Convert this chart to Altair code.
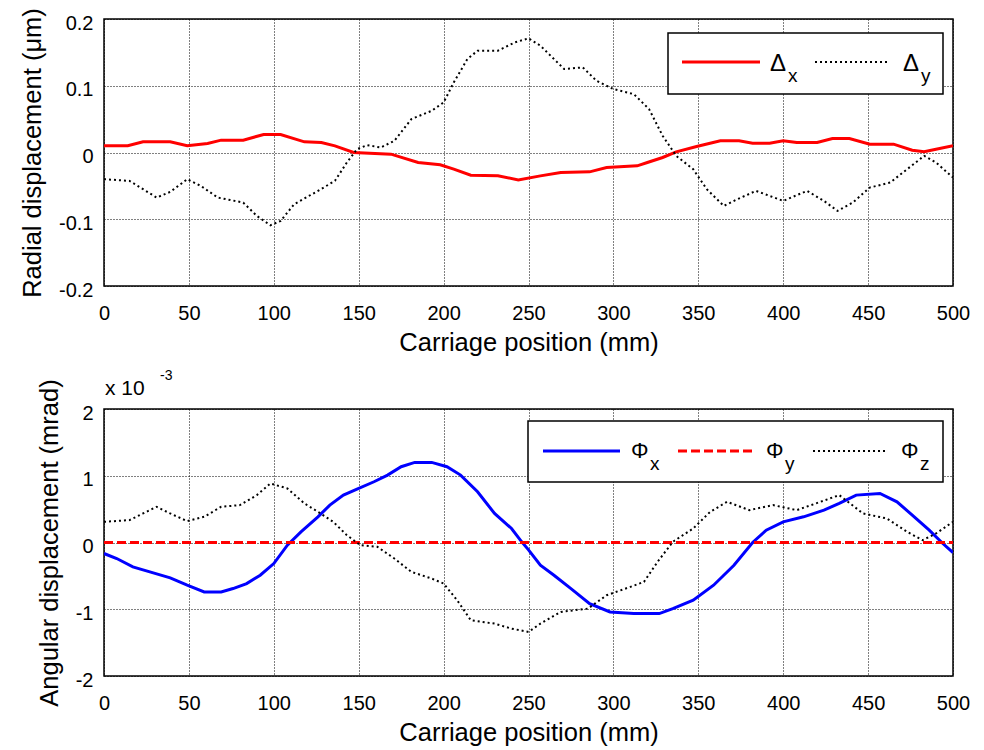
import altair as alt
import pandas as pd

# ---------------- data ----------------
# Top panel: radial displacement (µm)
dx_pos = [0, 14, 23, 39, 49, 61, 69, 82, 94, 104, 118, 128, 136, 147, 169, 185, 198, 206, 216,
          232, 244, 257, 269, 286, 296, 314, 320, 329, 337, 349, 363, 374, 382, 392, 400, 408,
          420, 429, 439, 451, 465, 476, 483, 490, 500]
dx_val = [0.010, 0.010, 0.016, 0.016, 0.010, 0.0135, 0.0185, 0.0185, 0.027, 0.027, 0.016, 0.015,
          0.010, 0.0, -0.0025, -0.015, -0.0185, -0.025, -0.034, -0.035, -0.041, -0.035, -0.030,
          -0.029, -0.0225, -0.020, -0.015, -0.0075, 0.001, 0.009, 0.0175, 0.0175, 0.014, 0.014,
          0.0175, 0.015, 0.015, 0.021, 0.021, 0.0125, 0.0125, 0.0035, 0.001, 0.005, 0.010]

dy_pos = [0, 15, 23, 31, 39, 49, 57, 67, 82, 90, 98, 104, 112, 126, 136, 143, 149, 155, 163, 171,
          181, 193, 200, 206, 214, 220, 232, 242, 250, 257, 271, 282, 290, 300, 312, 321, 329,
          337, 347, 355, 365, 373, 384, 400, 414, 424, 432, 441, 451, 463, 473, 483, 490, 500]
dy_val = [-0.040, -0.0425, -0.055, -0.0675, -0.059, -0.040, -0.050, -0.0675, -0.075, -0.095,
          -0.109, -0.1025, -0.0775, -0.0575, -0.0425, -0.015, 0.005, 0.011, 0.0075, 0.0175, 0.050,
          0.0625, 0.075, 0.105, 0.140, 0.1525, 0.1525, 0.165, 0.171, 0.160, 0.125, 0.1275, 0.1075,
          0.095, 0.0875, 0.065, 0.025, -0.005, -0.025, -0.055, -0.080, -0.070, -0.0575, -0.0725,
          -0.0575, -0.0725, -0.0875, -0.075, -0.0525, -0.045, -0.025, -0.005, -0.015, -0.0375]

# Bottom panel: angular displacement (x 10^-3 mrad)
phx_pos = [0, 7.5, 17, 27, 39, 49, 59, 69, 76, 84, 92, 100, 108, 116, 126, 133, 141, 149, 159,
           167, 175, 183, 193, 202, 210, 220, 230, 240, 246, 250, 257, 265, 275, 286, 298, 312,
           327, 335, 347, 359, 371, 382, 390, 400, 412, 424, 433, 443, 457, 467, 476, 486, 494, 500]
phx_val = [-0.165, -0.24, -0.365, -0.44, -0.53, -0.64, -0.74, -0.74, -0.69, -0.615, -0.49, -0.315,
           -0.04, 0.16, 0.385, 0.56, 0.71, 0.80, 0.91, 1.01, 1.135, 1.20, 1.20, 1.135, 1.01, 0.76,
           0.435, 0.21, 0.01, -0.11, -0.34, -0.49, -0.69, -0.915, -1.04, -1.065, -1.065, -0.99,
           -0.865, -0.64, -0.34, 0.0, 0.185, 0.31, 0.385, 0.485, 0.585, 0.71, 0.735, 0.61, 0.41,
           0.185, -0.015, -0.15]

phy_pos = [0, 500]
phy_val = [0.0, 0.0]

phz_pos = [0, 15, 23, 31, 39, 49, 59, 69, 80, 90, 98, 108, 118, 126, 135, 143, 151, 161, 171,
           181, 193, 200, 208, 216, 230, 240, 250, 257, 269, 285, 296, 310, 318, 326, 335, 347,
           357, 367, 380, 394, 408, 422, 433, 447, 461, 473, 482, 490, 500]
phz_val = [0.31, 0.335, 0.435, 0.535, 0.435, 0.32, 0.385, 0.535, 0.56, 0.71, 0.885, 0.81, 0.585,
           0.46, 0.31, 0.11, -0.04, -0.065, -0.24, -0.44, -0.54, -0.615, -0.865, -1.165, -1.215,
           -1.29, -1.34, -1.215, -1.04, -0.99, -0.79, -0.665, -0.59, -0.29, 0.01, 0.21, 0.46,
           0.61, 0.485, 0.56, 0.485, 0.61, 0.71, 0.435, 0.36, 0.16, 0.035, 0.135, 0.31]

x_ticks = list(range(0, 501, 50))
top_ticks = [-0.2, -0.1, 0, 0.1, 0.2]
bot_ticks = [-2, -1, 0, 1, 2]

FONT = "Liberation Sans"
W, H = 849, 267
LBL = 20
TTL = 25.5

x_scale = alt.Scale(domain=[0, 500], nice=False, zero=False)


def x_axis():
    return alt.Axis(values=x_ticks, grid=True, gridColor="black", gridDash=[1, 2], gridWidth=1,
                    gridOpacity=1, domain=False, ticks=False, labelFlush=False,
                    labelOverlap=False, labelFont=FONT, labelFontSize=LBL, labelColor="black",
                    labelPadding=17, title="Carriage position (mm)", titleFont=FONT,
                    titleFontSize=TTL, titleFontWeight="normal", titleColor="black",
                    titlePadding=7)


def y_axis(vals, title, expr):
    return alt.Axis(values=vals, grid=True, gridColor="black", gridDash=[1, 2], gridWidth=1,
                    gridOpacity=1, domain=False, ticks=False, labelFont=FONT, labelFontSize=LBL,
                    labelColor="black", labelPadding=11, labelOffset=4, labelOverlap=False,
                    labelExpr=expr, title=title, titleFont=FONT, titleFontSize=TTL,
                    titleFontWeight="normal", titleColor="black", titlePadding=13)


def series(pos, val, color, width, dash, y_scale, y_ax):
    df = pd.DataFrame({"pos": pos, "val": val})
    kw = dict(color=color, strokeWidth=width, clip=True)
    if dash:
        kw["strokeDash"] = dash
    return alt.Chart(df).mark_line(**kw).encode(
        x=alt.X("pos:Q", scale=x_scale, axis=x_axis()),
        y=alt.Y("val:Q", scale=y_scale, axis=y_ax),
    )


one = pd.DataFrame({"k": [0]})


def box(x1, x2, y1, y2):
    return alt.Chart(one).mark_rect(fill="white", stroke="black", strokeWidth=1.5).encode(
        x=alt.value(x1), x2=alt.value(x2), y=alt.value(y1), y2=alt.value(y2))


def sample(x1, x2, y, color, width, dash):
    kw = dict(color=color, strokeWidth=width)
    if dash:
        kw["strokeDash"] = dash
    return alt.Chart(one).mark_rule(**kw).encode(
        x=alt.value(x1), x2=alt.value(x2), y=alt.value(y))


def label(x, y, txt, size):
    return alt.Chart(one).mark_text(align="left", baseline="alphabetic", font=FONT,
                                    fontSize=size, color="black").encode(
        x=alt.value(x), y=alt.value(y), text=alt.value(txt))


DOT = [2, 3]
DASH = [9, 4]

# ---------------- top panel ----------------
top_y_scale = alt.Scale(domain=[-0.2, 0.2], nice=False, zero=False)
top_expr = ("datum.value < 0 ? '-' + format(-datum.value, '.1f') : "
            "(datum.value == 0 ? '0' : format(datum.value, '.1f'))")
top_y_axis = y_axis(top_ticks, "Radial displacement (\u03bcm)", top_expr)

top = alt.layer(
    series(dx_pos, dx_val, "#ff0000", 3, None, top_y_scale, top_y_axis),
    series(dy_pos, dy_val, "black", 2, DOT, top_y_scale, top_y_axis),
    box(564, 839, 14, 75),
    sample(578, 656, 43, "#ff0000", 3, None),
    label(666, 52, "\u0394", 24),
    label(684, 63, "x", 19),
    sample(711, 785, 43, "black", 2, DOT),
    label(799, 52, "\u0394", 24),
    label(817, 63, "y", 19),
).properties(width=W, height=H)

# ---------------- bottom panel ----------------
bot_y_scale = alt.Scale(domain=[-2, 2], nice=False, zero=False)
bot_expr = "datum.value < 0 ? '-' + format(-datum.value, 'd') : format(datum.value, 'd')"
bot_y_axis = y_axis(bot_ticks, "Angular displacement (mrad)", bot_expr)

bottom = alt.layer(
    series(phx_pos, phx_val, "#0000ff", 3, None, bot_y_scale, bot_y_axis),
    series(phy_pos, phy_val, "#ff0000", 3, DASH, bot_y_scale, bot_y_axis),
    series(phz_pos, phz_val, "black", 2, DOT, bot_y_scale, bot_y_axis),
    box(424, 839, 12, 73),
    sample(439, 516, 42, "#0000ff", 3, None),
    label(527, 49, "\u03a6", 22),
    label(546, 61, "x", 19),
    sample(574, 651, 42, "#ff0000", 3, DASH),
    label(662, 49, "\u03a6", 22),
    label(681, 61, "y", 19),
    sample(709, 784, 42, "black", 2, DOT),
    label(797, 49, "\u03a6", 22),
    label(816, 61, "z", 19),
    label(1, -14, "x 10", 21),
    label(56, -29, "-3", 14),
).properties(width=W, height=H)

chart = alt.vconcat(top, bottom, spacing=11).properties(
    padding={"left": 19, "top": 6, "right": 5, "bottom": 5}
).configure(font=FONT).configure_view(stroke="black", strokeWidth=1.5)

chart.save("out.html", embed_options={"renderer": "svg", "actions": False})
